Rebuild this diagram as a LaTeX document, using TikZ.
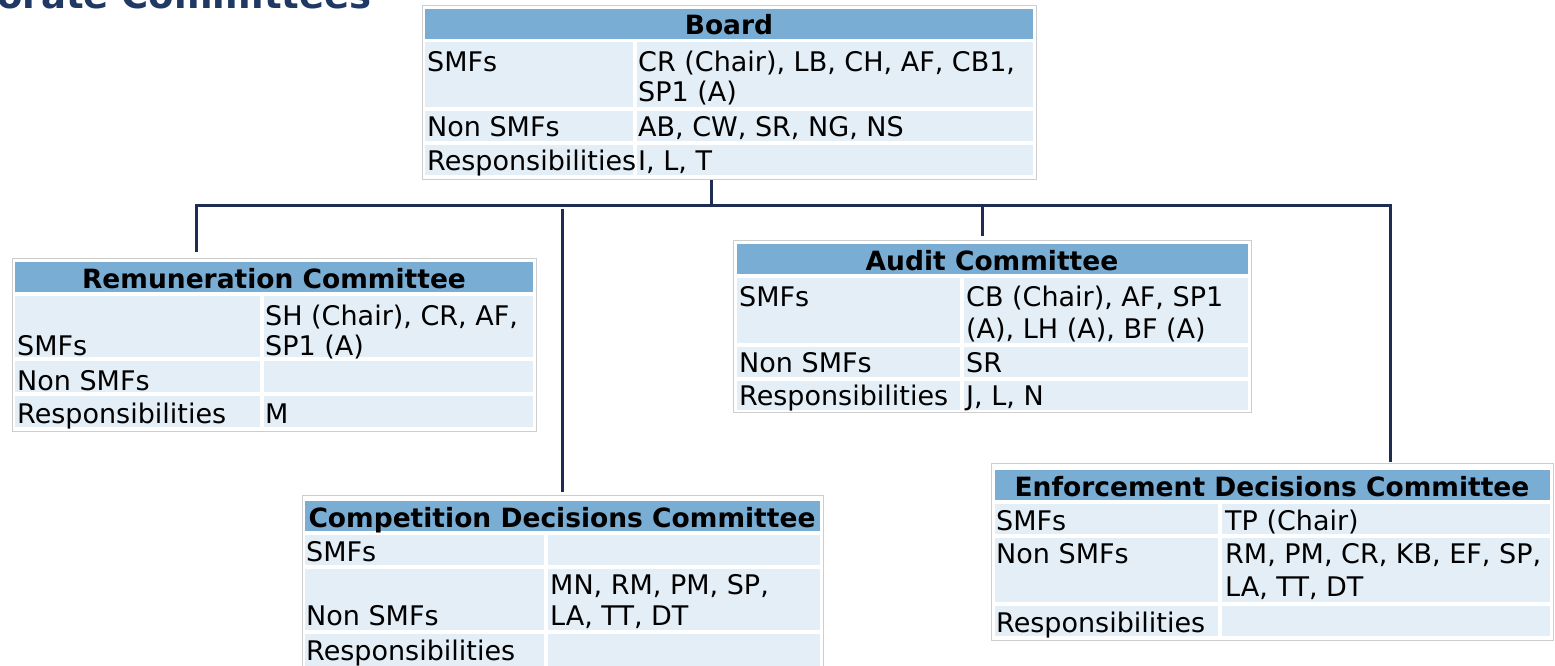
\documentclass[tikz,border=0pt]{standalone}
\usepackage{fontspec}
\setmainfont{DejaVu Sans}
\definecolor{hdrblue}{RGB}{122,173,212}
\definecolor{cellblue}{RGB}{228,238,246}
\definecolor{framegray}{RGB}{205,205,205}
\definecolor{linknavy}{RGB}{31,45,82}
\definecolor{titlenavy}{RGB}{31,56,100}
\tikzset{
  frame/.style={draw=framegray, line width=1pt, fill=white, inner sep=0pt, anchor=north west},
  hdr/.style={fill=hdrblue, inner sep=0pt, anchor=north west, minimum height=30pt},
  cell/.style={fill=cellblue, inner sep=0pt, anchor=north west},
  txt/.style={anchor=base west, inner sep=0pt, font=\fontsize{27}{30}\selectfont},
  htxt/.style={anchor=base, inner sep=0pt, font=\bfseries\fontsize{26.5}{30}\selectfont},
  link/.style={draw=linknavy, line width=3pt}
}
% two cells of one table row: prefix, y, height, left x, left width, right x, right width
\newcommand\rowcells[7]{%
  \node[cell, minimum width=#5pt, minimum height=#3pt] (#1-l) at (#4,#2) {};
  \node[cell, minimum width=#7pt, minimum height=#3pt] (#1-r) at (#6,#2) {};
}
\begin{document}
\begin{tikzpicture}[x=1pt,y=-1pt]
\useasboundingbox (0,0) rectangle (1555,666);

% heading, cut by the top edge
\node[anchor=base east, inner sep=0pt, text=titlenavy, font=\bfseries\fontsize{37}{40}\selectfont] (title) at (372,9) {orate Committees};

% ---- Board
\node[frame, minimum width=614pt, minimum height=174pt] (board) at (422,5) {};
\node[hdr, minimum width=608pt] (board-h) at (425,9) {};
\node[htxt] (board-ht) at (729,35) {Board};
\rowcells{board-a}{42}{65}{425}{208}{637}{396}
\rowcells{board-b}{111}{30}{425}{208}{637}{396}
\rowcells{board-c}{145}{30}{425}{208}{637}{396}
\node[txt] (board-t1) at (427,72) {SMFs};
\node[txt] (board-t2) at (638,72) {CR (Chair), LB, CH, AF, CB1,};
\node[txt] (board-t3) at (638,102) {SP1 (A)};
\node[txt] (board-t4) at (427,137) {Non SMFs};
\node[txt] (board-t5) at (638,137) {AB, CW, SR, NG, NS};
\node[txt] (board-t6) at (427,170) {Responsibilities};
\node[txt] (board-t7) at (638,170) {I, L, T};

% ---- Remuneration Committee
\node[frame, minimum width=524pt, minimum height=173pt] (rem) at (12,258) {};
\node[hdr, minimum width=518pt] (rem-h) at (15,262) {};
\node[htxt] (rem-ht) at (274,288) {Remuneration Committee};
\rowcells{rem-a}{296}{61}{15}{245}{264}{269}
\rowcells{rem-b}{361}{31}{15}{245}{264}{269}
\rowcells{rem-c}{396}{31}{15}{245}{264}{269}
\node[txt] (rem-t1) at (265,325) {SH (Chair), CR, AF,};
\node[txt] (rem-t2) at (265,355) {SP1 (A)};
\node[txt] (rem-t3) at (17,355) {SMFs};
\node[txt] (rem-t4) at (17,390) {Non SMFs};
\node[txt] (rem-t5) at (17,423) {Responsibilities};
\node[txt] (rem-t6) at (265,423) {M};

% ---- Audit Committee
\node[frame, minimum width=518pt, minimum height=172pt] (aud) at (733,240) {};
\node[hdr, minimum width=511pt] (aud-h) at (737,244) {};
\node[htxt] (aud-ht) at (992,270) {Audit Committee};
\rowcells{aud-a}{278}{65}{737}{223}{964}{284}
\rowcells{aud-b}{347}{30}{737}{223}{964}{284}
\rowcells{aud-c}{381}{29}{737}{223}{964}{284}
\node[txt] (aud-t1) at (739,306) {SMFs};
\node[txt] (aud-t2) at (966,306) {CB (Chair), AF, SP1};
\node[txt] (aud-t3) at (966,338) {(A), LH (A), BF (A)};
\node[txt] (aud-t4) at (739,372) {Non SMFs};
\node[txt] (aud-t5) at (966,372) {SR};
\node[txt] (aud-t6) at (739,405) {Responsibilities};
\node[txt] (aud-t7) at (966,405) {J, L, N};

% ---- Competition Decisions Committee
\node[frame, minimum width=521pt, minimum height=175pt] (cdc) at (302,495) {};
\node[hdr, minimum width=515pt] (cdc-h) at (305,501) {};
\node[htxt] (cdc-ht) at (562,527) {Competition Decisions Committee};
\rowcells{cdc-a}{535}{30}{305}{239}{548}{272}
\rowcells{cdc-b}{569}{61}{305}{239}{548}{272}
\rowcells{cdc-c}{634}{35}{305}{239}{548}{272}
\node[txt] (cdc-t1) at (306,561) {SMFs};
\node[txt] (cdc-t2) at (550,594) {MN, RM, PM, SP,};
\node[txt] (cdc-t3) at (550,625) {LA, TT, DT};
\node[txt] (cdc-t4) at (306,625) {Non SMFs};
\node[txt] (cdc-t5) at (306,660) {Responsibilities};

% ---- Enforcement Decisions Committee
\node[frame, minimum width=562pt, minimum height=177pt] (edc) at (991,463) {};
\node[hdr, minimum width=555pt] (edc-h) at (995,470) {};
\node[htxt] (edc-ht) at (1272,496) {Enforcement Decisions Committee};
\rowcells{edc-a}{504}{30}{995}{223}{1222}{328}
\rowcells{edc-b}{538}{64}{995}{223}{1222}{328}
\rowcells{edc-c}{606}{30}{995}{223}{1222}{328}
\node[txt] (edc-t1) at (996,530) {SMFs};
\node[txt] (edc-t2) at (1225,530) {TP (Chair)};
\node[txt] (edc-t3) at (996,563) {Non SMFs};
\node[txt] (edc-t4) at (1225,563) {RM, PM, CR, KB, EF, SP,};
\node[txt] (edc-t5) at (1225,596) {LA, TT, DT};
\node[txt] (edc-t6) at (996,632) {Responsibilities};

% ---- connectors
\coordinate (bus-b) at (711,205);
\coordinate (bus-l) at (196,205);
\coordinate (bus-c) at (562,209);
\coordinate (bus-a) at (982,205);
\coordinate (bus-r) at (1390,205);
\draw[link] (board.south -| bus-b) -- (bus-b);
\draw[link, line cap=rect] (bus-l) -- (bus-r);
\draw[link] (bus-l) -- ([yshift=6pt]rem.north -| bus-l);
\draw[link] (bus-c) -- ([yshift=3pt]cdc.north -| bus-c);
\draw[link] (bus-a) -- ([yshift=4pt]aud.north -| bus-a);
\draw[link] (bus-r) -- ([yshift=1pt]edc.north -| bus-r);
\end{tikzpicture}
\end{document}
